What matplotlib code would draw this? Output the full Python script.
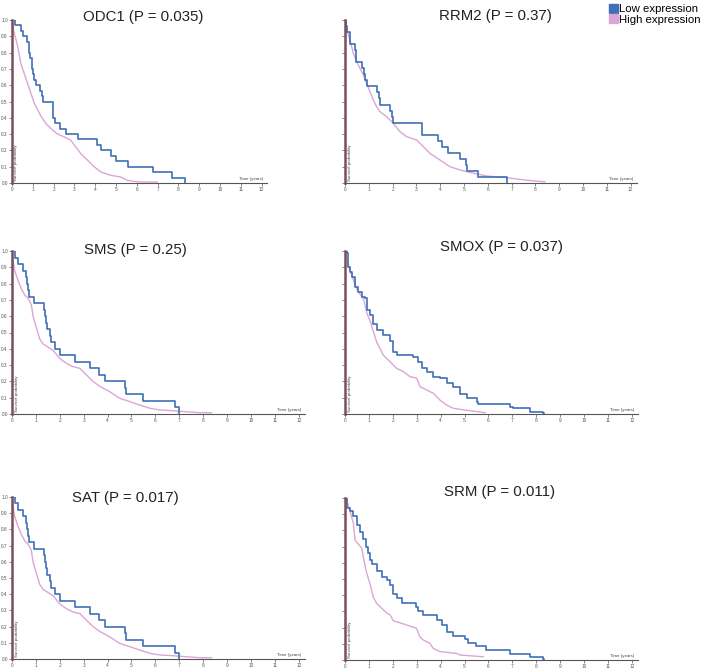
import matplotlib.pyplot as plt
from matplotlib.patches import Patch

plt.rcParams['font.family'] = ['Liberation Sans', 'DejaVu Sans']

W, H = 708, 672
blue = '#3f6fb8'
pink = '#dba6d6'
axis_col = '#7d4f5a'

# survival curves (time in years, survival probability)
odc1_low_t = [0, 0.14, 0.43, 0.51, 0.72, 0.83, 0.88, 0.94, 1.02, 1.07, 1.15, 1.36, 1.42, 1.5,
              1.98, 2.08, 2.3, 2.62, 3.15, 4.11, 4.27, 4.75, 4.99, 5.58, 6.78, 7.71, 8.32]
odc1_low_s = [1.0, 0.967, 0.933, 0.9, 0.867, 0.8, 0.767, 0.7, 0.667, 0.633, 0.6, 0.567, 0.533, 0.5,
              0.4, 0.367, 0.333, 0.3, 0.267, 0.233, 0.2, 0.167, 0.133, 0.1, 0.067, 0.033, 0.0]
odc1_high_t = [0, 0.05, 0.11, 0.27, 0.43, 0.59, 0.75, 0.91, 1.07, 1.23, 1.39, 1.63, 1.87, 2.19, 2.51,
               2.83, 3.07, 3.31, 3.63, 3.95, 4.27, 4.75, 5.23, 5.55, 5.87, 6.2, 6.99]
odc1_high_s = [1.0, 0.96, 0.92, 0.84, 0.73, 0.67, 0.61, 0.55, 0.49, 0.45, 0.41, 0.365, 0.334, 0.30, 0.283,
               0.262, 0.22, 0.18, 0.14, 0.10, 0.068, 0.047, 0.037, 0.016, 0.01, 0.006, 0.006]

rrm2_low_t = [0, 0.05, 0.1, 0.21, 0.42, 0.46, 0.70, 0.80, 0.85, 0.91, 1.36, 1.44, 1.47, 1.89, 1.96, 2.0,
              3.25, 3.92, 4.06, 4.34, 4.83, 5.08, 5.14, 5.6, 6.79]
rrm2_low_s = [1.0, 0.963, 0.926, 0.852, 0.815, 0.741, 0.704, 0.667, 0.63, 0.593, 0.556, 0.519, 0.481,
              0.444, 0.407, 0.37, 0.296, 0.259, 0.222, 0.185, 0.148, 0.111, 0.074, 0.037, 0.0]
rrm2_high_t = [0, 0.07, 0.21, 0.35, 0.49, 0.63, 0.77, 0.91, 1.05, 1.19, 1.33, 1.47, 1.75, 2.03, 2.31, 2.59,
               3.01, 3.29, 3.57, 3.99, 4.41, 4.83, 5.25, 5.95, 6.65, 7.2, 7.77, 8.3, 8.4]
rrm2_high_s = [1.0, 0.939, 0.877, 0.796, 0.744, 0.703, 0.663, 0.611, 0.56, 0.509, 0.468, 0.437, 0.407,
               0.366, 0.315, 0.284, 0.264, 0.223, 0.182, 0.141, 0.10, 0.08, 0.065, 0.043, 0.035, 0.025,
               0.015, 0.008, 0.008]

sms_low_t = [0, 0.11, 0.25, 0.46, 0.57, 0.64, 0.67, 0.71, 0.92, 1.34, 1.38, 1.41, 1.48, 1.58, 1.65, 1.82,
             2.0, 2.65, 3.25, 3.63, 3.91, 4.72, 4.76, 5.49, 6.82, 6.98]
sms_low_s = [1.0, 0.96, 0.92, 0.88, 0.84, 0.80, 0.76, 0.72, 0.68, 0.64, 0.60, 0.56, 0.52, 0.48, 0.44, 0.40,
             0.36, 0.32, 0.28, 0.24, 0.20, 0.16, 0.12, 0.08, 0.04, 0.0]
sms_high_t = [0, 0.04, 0.11, 0.25, 0.39, 0.53, 0.67, 0.81, 0.88, 1.02, 1.16, 1.3, 1.51, 1.72, 2.0, 2.28,
              2.56, 2.84, 3.11, 3.39, 3.67, 4.09, 4.51, 4.93, 5.35, 5.77, 6.19, 6.75, 7.3, 7.86, 8.35]
sms_high_s = [1.0, 0.95, 0.88, 0.82, 0.77, 0.73, 0.71, 0.67, 0.60, 0.53, 0.46, 0.43, 0.41, 0.39, 0.34,
              0.31, 0.29, 0.28, 0.24, 0.20, 0.17, 0.137, 0.096, 0.076, 0.055, 0.035, 0.025, 0.02, 0.014,
              0.008, 0.008]

smox_low_t = [0, 0.1, 0.14, 0.21, 0.28, 0.42, 0.56, 0.7, 0.84, 0.91, 1.05, 1.19, 1.32, 1.6, 1.88, 1.99,
              2.16, 2.86, 3.07, 3.21, 3.42, 3.7, 3.97, 4.25, 4.53, 4.81, 5.09, 5.51, 5.58, 6.9, 7.04,
              7.74, 8.3, 8.33]
smox_low_s = [1.0, 0.985, 0.9, 0.87, 0.84, 0.78, 0.75, 0.72, 0.71, 0.64, 0.61, 0.55, 0.515, 0.485, 0.445,
              0.38, 0.36, 0.35, 0.32, 0.28, 0.26, 0.23, 0.22, 0.19, 0.165, 0.12, 0.1, 0.075, 0.06, 0.045,
              0.035, 0.015, 0.006, 0.0]
smox_high_t = [0, 0.07, 0.14, 0.28, 0.42, 0.56, 0.7, 0.79, 0.91, 1.05, 1.19, 1.32, 1.46, 1.6, 1.95, 2.16,
               2.44, 2.72, 3.0, 3.14, 3.42, 3.7, 3.97, 4.25, 4.53, 5.23, 5.86]
smox_high_s = [1.0, 0.95, 0.914, 0.853, 0.79, 0.75, 0.72, 0.70, 0.62, 0.57, 0.505, 0.444, 0.403, 0.362,
               0.311, 0.28, 0.26, 0.229, 0.22, 0.168, 0.147, 0.127, 0.086, 0.055, 0.035, 0.02, 0.008]

sat_low_t = list(sms_low_t)
sat_low_s = list(sms_low_s)
sat_high_t = list(sms_high_t)
sat_high_s = list(sms_high_s)

srm_low_t = [0, 0.07, 0.1, 0.21, 0.35, 0.49, 0.63, 0.77, 0.88, 0.97, 1.04, 1.11, 1.32, 1.53, 1.74, 1.88,
             2.02, 2.16, 2.37, 2.99, 3.06, 3.27, 3.83, 4.04, 4.25, 4.53, 5.01, 5.15, 5.5, 5.92, 6.89,
             7.73, 8.29, 8.31]
srm_low_s = [1.0, 1.0, 0.94, 0.92, 0.89, 0.835, 0.79, 0.75, 0.70, 0.66, 0.62, 0.59, 0.55, 0.515, 0.495,
             0.464, 0.41, 0.38, 0.35, 0.33, 0.30, 0.28, 0.25, 0.217, 0.175, 0.15, 0.128, 0.103, 0.089,
             0.062, 0.037, 0.016, 0.006, 0.0]
srm_high_t = [0, 0.07, 0.21, 0.35, 0.42, 0.7, 0.84, 0.91, 1.04, 1.18, 1.32, 1.46, 1.6, 1.74, 1.88, 2.02,
              2.99, 3.13, 3.27, 3.55, 3.69, 3.97, 4.67, 4.8, 5.78]
srm_high_s = [1.0, 0.99, 0.92, 0.845, 0.74, 0.69, 0.58, 0.536, 0.474, 0.39, 0.35, 0.33, 0.31, 0.29, 0.28,
              0.243, 0.196, 0.144, 0.124, 0.103, 0.072, 0.052, 0.041, 0.031, 0.02]

titles = ['ODC1 (P = 0.035)', 'RRM2 (P = 0.37)', 'SMS (P = 0.25)',
          'SMOX (P = 0.037)', 'SAT (P = 0.017)', 'SRM (P = 0.011)']
curves = [(odc1_low_t, odc1_low_s, odc1_high_t, odc1_high_s),
          (rrm2_low_t, rrm2_low_s, rrm2_high_t, rrm2_high_s),
          (sms_low_t, sms_low_s, sms_high_t, sms_high_s),
          (smox_low_t, smox_low_s, smox_high_t, smox_high_s),
          (sat_low_t, sat_low_s, sat_high_t, sat_high_s),
          (srm_low_t, srm_low_s, srm_high_t, srm_high_s)]

# pixel layout: x of t=0, y of S=1, px per year, px height, title centre
layout = [(12, 20, 20.8, 163, (143, 17)),
          (345, 20, 23.8, 163, (495, 16)),
          (12, 251, 23.9, 163, (135, 250)),
          (345, 251, 23.9, 163, (502, 247)),
          (12, 497, 23.9, 162, (125, 498)),
          (345, 498, 23.9, 162, (500, 492))]

fig = plt.figure(figsize=(W / 100, H / 100), dpi=100)

xmax = 12.25
for i, (title, (lt, ls, ht, hs), (x0, y0, ppy, hpx, tpos)) in enumerate(zip(titles, curves, layout)):
    ax = fig.add_axes([x0 / W, 1 - (y0 + hpx) / H, ppy * xmax / W, hpx / H])
    ax.plot(ht, hs, color=pink, lw=1.0)
    ax.step(lt, ls, where='post', color=blue, lw=1.2)
    ax.set_xlim(0, xmax)
    ax.set_ylim(0, 1.0)
    ax.set_xticks(range(0, 13))
    ax.set_xticklabels([str(v) for v in range(0, 13)])
    ax.set_yticks([k / 10 for k in range(11)])
    if x0 < 100:
        ax.set_yticklabels(['%.1f' % (k / 10) for k in range(11)])
    else:
        ax.set_yticklabels([])
    ax.tick_params(labelsize=3.4, length=2, width=0.5, pad=1, colors='#555555')
    for s in ['top', 'right']:
        ax.spines[s].set_visible(False)
    ax.spines['left'].set_color(axis_col)
    ax.spines['left'].set_linewidth(1.8)
    ax.spines['bottom'].set_color('#555555')
    ax.spines['bottom'].set_linewidth(0.8)
    ax.patch.set_alpha(0)
    ax.text(12.1, 0.012, 'Time (years)', ha='right', va='bottom', fontsize=3.2, color='#444444')
    ax.text(0.12, 0.012, 'Survival probability', ha='left', va='bottom', rotation=90,
            fontsize=3.2, color='#444444')
    fig.text(tpos[0] / W, 1 - tpos[1] / H, title, ha='center', va='center', fontsize=10.8, color='#222222')

fig.legend(handles=[Patch(color=blue, label='Low expression'),
                    Patch(color=pink, label='High expression')],
           loc='upper left', bbox_to_anchor=(609 / W, 1 - 4 / H), frameon=False, fontsize=8.2,
           handlelength=0.8, handleheight=0.8, handletextpad=0.1, labelspacing=0.0,
           borderpad=0, borderaxespad=0)

fig.savefig('out.png', dpi=100)
